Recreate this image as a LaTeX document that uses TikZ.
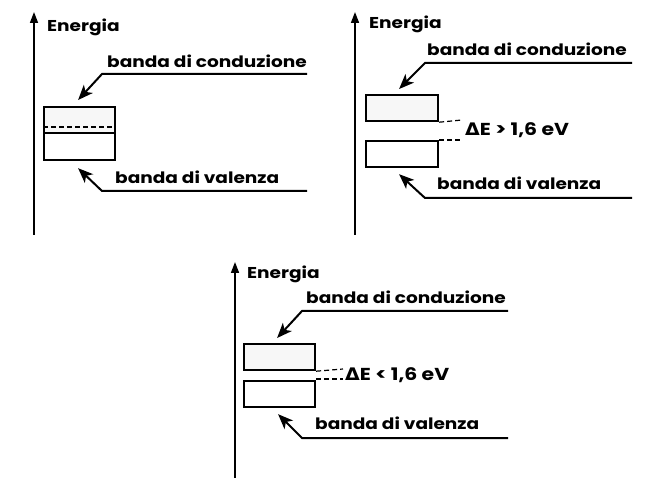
\documentclass[tikz,border=0pt]{standalone}
\usepackage{fontspec}
\setmainfont{Poppins}[FakeStretch=1.18]
\newfontfamily\grk{DejaVu Sans}[FakeStretch=1.1]
\usetikzlibrary{arrows.meta}
\begin{document}
\begin{tikzpicture}[x=1pt,y=-1pt,
  lbl/.style={font=\bfseries\fontsize{15.7}{18}\selectfont, anchor=west, inner sep=0pt},
  gaplbl/.style={font=\bfseries\fontsize{17.3}{19}\selectfont, anchor=west, inner sep=0pt},
  axisline/.style={line width=1.6pt, -{Triangle[length=11pt,width=8pt]}},
  lead/.style={line width=2pt, -{Stealth[length=15pt,width=12pt,inset=4pt]}},
  bandbox/.style={draw, line width=2.2pt, inner sep=0pt, anchor=north west},
  stip/.style={fill=gray!6},
  gapline/.style={line width=1.2pt, dash pattern=on 5pt off 3pt}]
\useasboundingbox (0,0) rectangle (648,478);

% ---------- panel 1 ----------
\coordinate (a1b) at (34,235);
\coordinate (a1t) at (34,12);
\draw[axisline] (a1b) -- (a1t);
\node[lbl] (e1) at (47,27) {Energia};
\node[lbl] (c1) at (107,61) {banda di conduzione};
\fill[stip] (43,106) rectangle (114,133);
\node[bandbox, minimum width=71pt, minimum height=53pt] (b1) at (43,106) {};
\draw[line width=2.2pt] (43,133) -- (114,133);
\draw[gapline] (43,127) -- (114,127);
\coordinate (c1r) at (307,74);
\coordinate (c1k) at (102,74);
\draw[lead] (c1r) -- (c1k) -- ([xshift=-1.5pt,yshift=6pt]b1.north);
\node[lbl] (v1) at (115,177) {banda di valenza};
\coordinate (v1r) at (307,191);
\coordinate (v1k) at (102,191);
\draw[lead] (v1r) -- (v1k) -- ([xshift=-1.5pt,yshift=-7pt]b1.south);

% ---------- panel 2 ----------
\coordinate (a2b) at (355,235);
\coordinate (a2t) at (355,12);
\draw[axisline] (a2b) -- (a2t);
\node[lbl] (e2) at (369,24) {Energia};
\node[lbl] (c2) at (427,49) {banda di conduzione};
\node[bandbox, stip, minimum width=72pt, minimum height=26pt] (b2u) at (365,94) {};
\node[bandbox, minimum width=72pt, minimum height=26pt] (b2l) at (365,140) {};
\coordinate (d2u) at (462,120);
\coordinate (d2l) at (462,140);
\draw[gapline] (b2u.south east) -- (d2u);
\draw[gapline] (b2l.north east) -- (d2l);
\node[gaplbl] (g2) at (465,130) {{\grk\bfseries Δ}E > 1,6 eV};
\coordinate (c2r) at (632,63);
\coordinate (c2k) at (425,63);
\draw[lead] (c2r) -- (c2k) -- ([xshift=-3pt,yshift=5pt]b2u.north);
\node[lbl] (v2) at (437,183) {banda di valenza};
\coordinate (v2r) at (632,198);
\coordinate (v2k) at (425,198);
\draw[lead] (v2r) -- (v2k) -- ([xshift=-3pt,yshift=-6pt]b2l.south);

% ---------- panel 3 ----------
\coordinate (a3b) at (235,478);
\coordinate (a3t) at (235,262);
\draw[axisline] (a3b) -- (a3t);
\node[lbl] (e3) at (247,274) {Energia};
\node[lbl] (c3) at (306,297) {banda di conduzione};
\node[bandbox, stip, minimum width=71pt, minimum height=26pt] (b3u) at (243,343) {};
\node[bandbox, minimum width=71pt, minimum height=26pt] (b3l) at (243,380) {};
\coordinate (d3u) at (343,369);
\coordinate (d3l) at (343,379);
\draw[gapline] (b3u.south east) -- (d3u);
\draw[gapline] ([yshift=1pt]b3l.north east) -- (d3l);
\node[gaplbl] (g3) at (345,375) {{\grk\bfseries Δ}E < 1,6 eV};
\coordinate (c3r) at (508,311);
\coordinate (c3k) at (302,311);
\draw[lead] (c3r) -- (c3k) -- ([xshift=-2.5pt,yshift=5pt]b3u.north);
\node[lbl] (v3) at (315,423) {banda di valenza};
\coordinate (v3r) at (508,438);
\coordinate (v3k) at (302,438);
\draw[lead] (v3r) -- (v3k) -- ([xshift=-1.5pt,yshift=-6pt]b3l.south);
\end{tikzpicture}
\end{document}
